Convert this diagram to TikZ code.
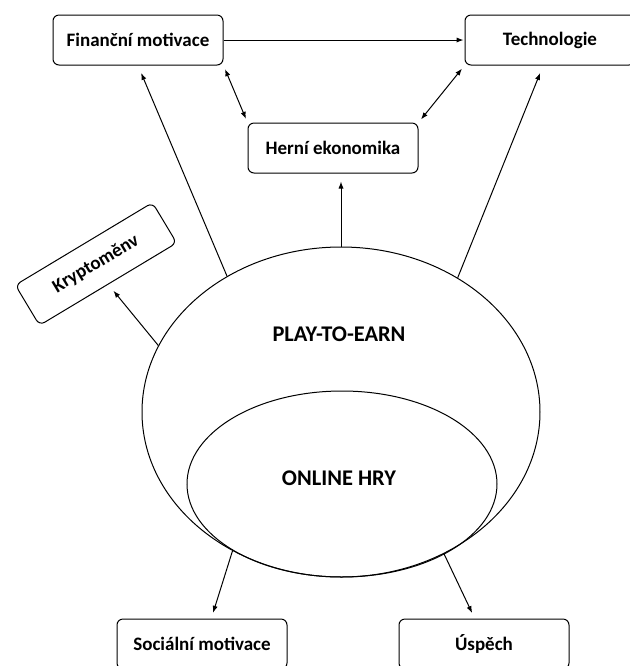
\documentclass[tikz,border=0pt]{standalone}
\usepackage{fontspec}
\setmainfont{Carlito}
\usetikzlibrary{arrows.meta,shapes.geometric}
\tikzset{
  box/.style={draw,rounded corners=3pt,minimum width=85pt,minimum height=25pt,inner sep=0pt,font=\bfseries\fontsize{9.5}{11}\selectfont},
  oval/.style={draw,ellipse,inner sep=0pt},
  big/.style={font=\bfseries\fontsize{11.2}{13}\selectfont},
  arr/.style={-{Latex[length=3.5pt,width=2.6pt]},shorten >=4pt},
  both/.style={{Latex[length=3.5pt,width=2.6pt]}-{Latex[length=3.5pt,width=2.6pt]},shorten >=2pt,shorten <=2pt},
}
\begin{document}
\begin{tikzpicture}[x=0.5pt,y=-0.5pt,line width=0.5pt]
  \useasboundingbox (0,0) rectangle (629,666);
  \node[oval,minimum width=199pt,minimum height=165pt] (p2e) at (341,412) {};
  \node[oval,minimum width=155pt,minimum height=93pt] (hry) at (342,484) {};
  \node[big] (p2etext) at (339,334) {PLAY-TO-EARN};
  \node[big] (hrytext) at (339,478) {ONLINE HRY};
  \node[box] (fin) at (138,40) {Finanční motivace};
  \node[box] (tech) at (550,40) {Technologie};
  \node[box] (herni) at (333,148) {Herní ekonomika};
  \node[box,rotate=31,minimum width=80pt,minimum height=23.5pt] (krypto) at (96,264) {Kryptoměnv};
  \node[box] (soc) at (202,644) {Sociální motivace};
  \node[box] (usp) at (484,644) {Úspěch};
  \draw[arr,shorten >=0.5pt] (fin) -- (tech);
  \draw[both] (fin.south east) -- (herni.north west);
  \draw[both] (tech.south west) -- (herni.north east);
  \draw[arr] (p2e.130) -- (fin.south);
  \draw[arr] (p2e.49) -- (tech.-105);
  \draw[arr] (p2e.north) -- (p2e.north |- herni.south);
  \draw[arr] (p2e.160) -- (krypto.south);
  \foreach \a/\b/\t in {232/soc/70, 306/usp/110}
    \draw[arr,shorten >=3pt] (p2e.\a) -- (\b.\t);
\end{tikzpicture}
\end{document}
